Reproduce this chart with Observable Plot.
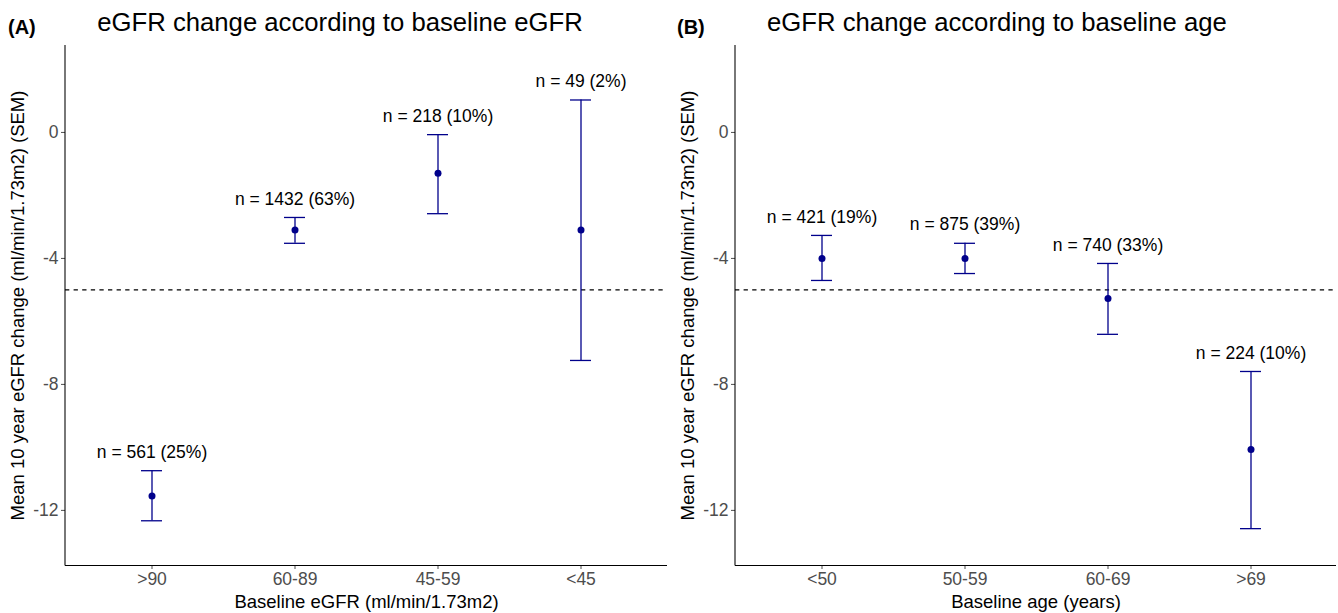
<!DOCTYPE html>
<html><head>
<meta charset="utf-8">
<script src="https://cdn.jsdelivr.net/npm/d3@7"></script>
<script src="https://cdn.jsdelivr.net/npm/@observablehq/plot@0.6"></script>
<style>
body{margin:0;background:#fff;font-family:"Liberation Sans",Arial,sans-serif}
#wrap{position:relative;width:1338px;height:613px;overflow:hidden}
.panel{position:absolute;top:0;width:669px;height:613px}
.tag{position:absolute;font-weight:bold;font-size:20px;top:16px;color:#000;line-height:23px}
.title{position:absolute;font-size:25.7px;top:7px;width:600px;text-align:center;color:#000;line-height:30px;white-space:nowrap}
</style>
</head><body>
<div id="wrap">
  <div class="panel" id="pA" style="left:0"></div>
  <div class="panel" id="pB" style="left:669px"></div>
</div>
<script>
const egfrCats = [">90", "60-89", "45-59", "<45"];
const egfrMean = [-11.54, -3.10, -1.30, -3.10];
const egfrLower = [-12.33, -3.52, -2.58, -7.24];
const egfrUpper = [-10.74, -2.70, -0.07, 1.03];
const egfrN = [561, 1432, 218, 49];
const egfrPct = [25, 63, 10, 2];

const ageCats = ["<50", "50-59", "60-69", ">69"];
const ageMean = [-4.00, -4.00, -5.27, -10.07];
const ageLower = [-4.70, -4.48, -6.41, -12.58];
const ageUpper = [-3.27, -3.52, -4.16, -7.59];
const ageN = [421, 875, 740, 224];
const agePct = [19, 39, 33, 10];

const yTicks = [0, -4, -8, -12];
const refLine = -5;
const yLabel = "Mean 10 year eGFR change (ml/min/1.73m2) (SEM)";

function panel(el, tag, title, titleCenter, cats, mean, lower, upper, n, pct, xLabel, marginLeft) {
  const data = cats.map((c, i) => ({cat: c, mean: mean[i], lower: lower[i], upper: upper[i],
    label: `n = ${n[i]} (${pct[i]}%)`}));
  const leftLine = (index, scales, values, dims) => {
    const g = d3.create("svg:line")
      .attr("x1", dims.marginLeft).attr("x2", dims.marginLeft)
      .attr("y1", dims.marginTop).attr("y2", dims.height - dims.marginBottom + 0.5)
      .attr("stroke", "black").attr("stroke-width", 1.07);
    return g.node();
  };
  const chart = Plot.plot({
    width: 669, height: 613,
    marginTop: 45, marginBottom: 48, marginLeft, marginRight: 2,
    style: {fontFamily: "'Liberation Sans', Arial, sans-serif", background: "white", overflow: "visible"},
    x: {type: "band", domain: cats, paddingInner: 0.1, paddingOuter: 0.15, label: null},
    y: {domain: [-13.75, 2.76], label: null},
    marks: [
      Plot.ruleY([refLine], {stroke: "black", strokeDasharray: "4.3,4.3", strokeWidth: 1.07}),
      Plot.ruleX(data, {x: "cat", y1: "lower", y2: "upper", stroke: "darkblue", strokeWidth: 1.3}),
      Plot.tickY(data, {x: "cat", y: "lower", stroke: "darkblue", strokeWidth: 1.3, insetLeft: 54, insetRight: 54}),
      Plot.tickY(data, {x: "cat", y: "upper", stroke: "darkblue", strokeWidth: 1.3, insetLeft: 54, insetRight: 54}),
      Plot.dot(data, {x: "cat", y: "mean", r: 3.5, fill: "darkblue"}),
      Plot.text(data, {x: "cat", y: "upper", text: "label", dy: -18.5, fontSize: 17.5, fill: "black"}),
      Plot.axisX({tickSize: 4, tickPadding: 3, fontSize: 17.5, color: "#4d4d4d", label: null}),
      Plot.axisY({ticks: yTicks, tickFormat: d => String(d), tickSize: 4, tickPadding: 3, fontSize: 17.5, color: "#4d4d4d", label: null}),
      Plot.ruleY([-13.75], {stroke: "black", strokeWidth: 1.07}),
      leftLine,
      Plot.text([xLabel], {frameAnchor: "bottom", dy: 37, fontSize: 18.5, fill: "black", lineAnchor: "middle"}),
      Plot.text([yLabel], {frameAnchor: "left", textAnchor: "middle", rotate: -90, dx: -47, dy: 0, fontSize: 18.5, fill: "black", lineAnchor: "middle"})
    ]
  });
  el.appendChild(chart);
  const t = document.createElement("div"); t.className = "title"; t.textContent = title;
  t.style.left = (titleCenter - 300) + "px"; el.appendChild(t);
  const a = document.createElement("div"); a.className = "tag"; a.textContent = tag; a.style.left = "8px"; el.appendChild(a);
}

panel(document.getElementById("pA"), "(A)", "eGFR change according to baseline eGFR", 340,
  egfrCats, egfrMean, egfrLower, egfrUpper, egfrN, egfrPct, "Baseline eGFR (ml/min/1.73m2)", 65);
panel(document.getElementById("pB"), "(B)", "eGFR change according to baseline age", 328,
  ageCats, ageMean, ageLower, ageUpper, ageN, agePct, "Baseline age (years)", 66);
</script>
</body></html>
